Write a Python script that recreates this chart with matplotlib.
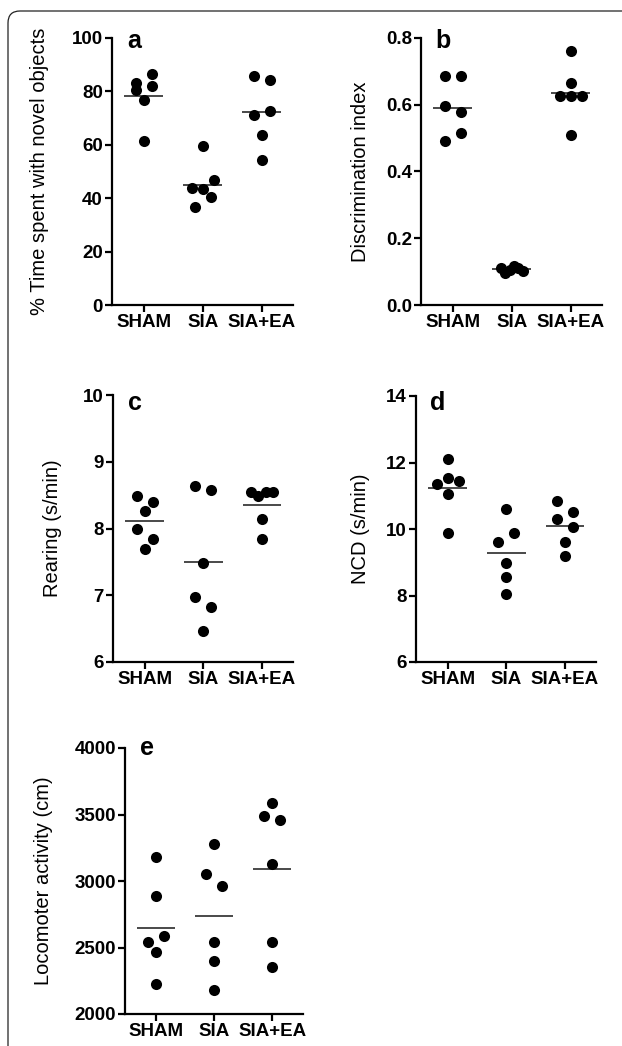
import matplotlib
matplotlib.use("Agg")
import matplotlib.pyplot as plt
import numpy as np
from matplotlib.patches import FancyBboxPatch
from matplotlib.transforms import IdentityTransform
from matplotlib.ticker import FormatStrFormatter

plt.rcParams['font.family'] = ['Liberation Sans', 'DejaVu Sans']

groups = ["SHAM", "SIA", "SIA+EA"]

# a: % time spent with novel objects
a_sham = [80.6, 83.1, 86.6, 82.1, 76.6, 61.3]
a_sia = [43.8, 43.4, 46.9, 36.6, 40.4, 59.4]
a_siaea = [85.9, 84.4, 71.3, 72.8, 63.8, 54.4]

# b: discrimination index
b_sham = [0.685, 0.685, 0.595, 0.577, 0.490, 0.515]
b_sia = [0.112, 0.097, 0.105, 0.118, 0.110, 0.103]
b_siaea = [0.760, 0.665, 0.627, 0.627, 0.627, 0.510]

# c: rearing (s/min)
c_sham = [8.48, 8.40, 8.26, 7.99, 7.84, 7.69]
c_sia = [8.64, 8.58, 7.49, 6.97, 6.82, 6.46]
c_siaea = [8.55, 8.49, 8.54, 8.55, 8.14, 7.85]

# d: NCD (s/min)
d_sham = [12.10, 11.34, 11.54, 11.45, 11.04, 9.87]
d_sia = [10.60, 9.60, 9.89, 8.97, 8.55, 8.05]
d_siaea = [10.85, 10.29, 10.52, 10.07, 9.60, 9.20]

# e: locomoter activity (cm)
e_sham = [3180, 2888, 2538, 2585, 2465, 2225]
e_sia = [3280, 3050, 2965, 2543, 2400, 2180]
e_siaea = [3588, 3485, 3460, 3125, 2543, 2355]

W, H = 622, 1046
fig = plt.figure(figsize=(W / 100, H / 100), dpi=100)

# frame with rounded corner (cut by the image edges at right and bottom)
frame = FancyBboxPatch((8, -40), 700, H - 11 + 40,
                       boxstyle="round,pad=0,rounding_size=12",
                       transform=IdentityTransform(), fill=False,
                       edgecolor="#222222", linewidth=0.9)
fig.patches.append(frame)


def row_offsets(ax, vals, gap=11.8):
    # Prism-like scatter: values close in pixel height share a row,
    # points of a row are spread side by side around the group centre
    t = ax.transData
    ys = t.transform(np.column_stack([np.zeros(len(vals)), vals]))[:, 1]
    pxu = t.transform([(1, 0)])[0, 0] - t.transform([(0, 0)])[0, 0]
    order = list(np.argsort(-ys, kind="stable"))
    offs = np.zeros(len(vals))
    while order:
        first = order[0]
        row = [i for i in order if ys[first] - ys[i] < gap]
        order = [i for i in order if i not in row]
        row.sort()
        n = len(row)
        if n > 1:
            s = 16 if n == 2 else 22 / (n - 1)
            for k, i in enumerate(row):
                offs[i] = (k - (n - 1) / 2) * s
    return offs / pxu


def panel(box, data, ylim, yticks, ylabel, letter, lab_x, let_x, let_y, fmt=None):
    l, r, t, b = box
    ax = fig.add_axes([l / W, (H - b) / H, (r - l) / W, (b - t) / H])
    ax.set_xlim(-0.54, 2.53)
    ax.set_ylim(*ylim)
    ax.set_yticks(yticks)
    ax.set_xticks(range(3))
    ax.set_xticklabels(groups)
    if fmt:
        ax.yaxis.set_major_formatter(FormatStrFormatter(fmt))
    for s in ["top", "right"]:
        ax.spines[s].set_visible(False)
    for s in ["left", "bottom"]:
        ax.spines[s].set_linewidth(1.6)
    ax.tick_params(width=1.6, length=5, pad=1.5, labelsize=13.5)
    for lab in ax.get_xticklabels() + ax.get_yticklabels():
        lab.set_fontweight("bold")
    for i, vals in enumerate(data):
        offs = row_offsets(ax, vals)
        ax.hlines(np.mean(vals), i - 0.33, i + 0.33, color="#3a3a3a", lw=1.3, zorder=2)
        ax.plot(i + offs, vals, "o", color="black", ms=8, mew=0, zorder=3, clip_on=False)
    ax.text(lab_x, 0.5, ylabel, transform=ax.transAxes, rotation=90,
            ha="center", va="center", fontsize=14.5)
    ax.text(let_x, let_y, letter, transform=ax.transAxes, ha="left",
            va="baseline", fontsize=18, fontweight="bold")
    return ax


panel((112, 293, 38, 305), [a_sham, a_sia, a_siaea], (0, 100), range(0, 101, 20),
      "% Time spent with novel objects", "a", -0.403, 0.083, 0.962)
panel((421, 602, 38, 305), [b_sham, b_sia, b_siaea], (0, 0.8), np.arange(0, 0.81, 0.2),
      "Discrimination index", "b", -0.337, 0.077, 0.962, fmt="%.1f")
panel((113, 293, 395, 662), [c_sham, c_sia, c_siaea], (6, 10), range(6, 11),
      "Rearing (s/min)", "c", -0.336, 0.083, 0.944)
panel((416, 596, 396, 662), [d_sham, d_sia, d_siaea], (6, 14), range(6, 15, 2),
      "NCD (s/min)", "d", -0.311, 0.078, 0.947)
panel((125, 303, 748, 1014), [e_sham, e_sia, e_siaea], (2000, 4000), range(2000, 4001, 500),
      "Locomoter activity (cm)", "e", -0.459, 0.084, 0.974)

fig.savefig("out.png", dpi=100)
